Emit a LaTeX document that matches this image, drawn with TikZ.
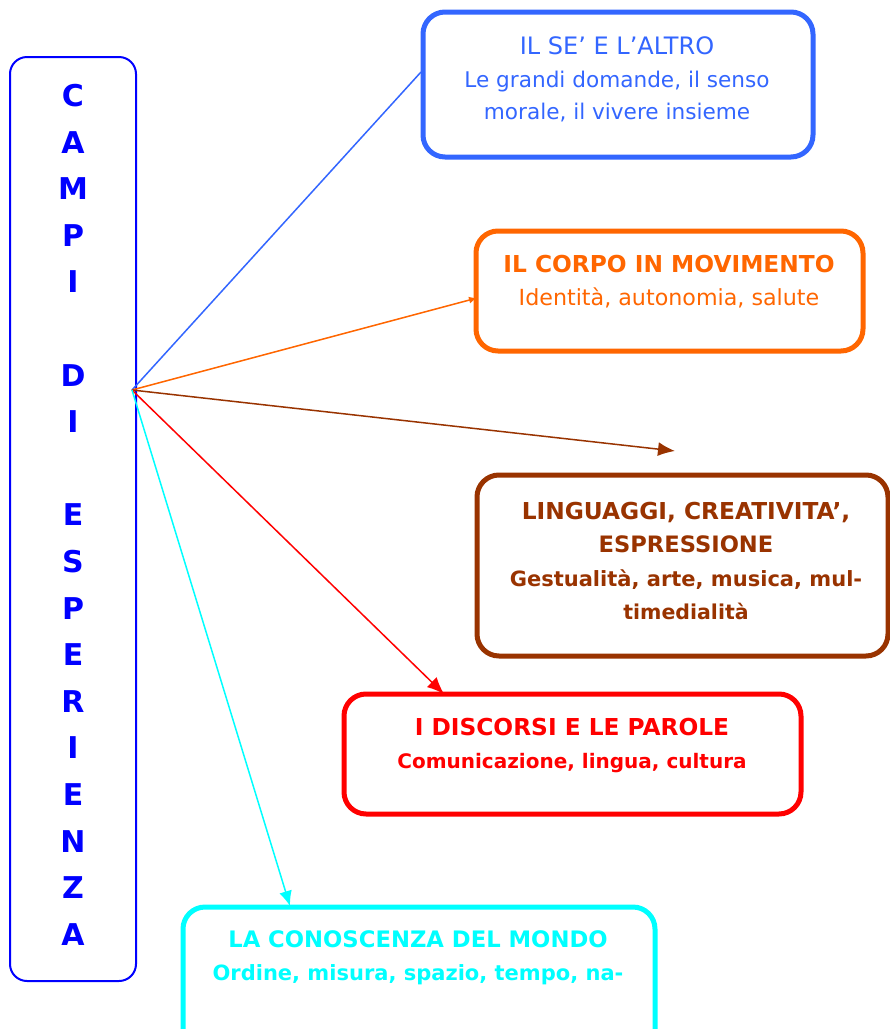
\documentclass[tikz,border=0pt]{standalone}
\usepackage{fontspec}
\setmainfont{DejaVu Sans}
\usetikzlibrary{arrows.meta}
\definecolor{cblue}{HTML}{3366FF}
\definecolor{corange}{HTML}{FF6600}
\definecolor{cbrown}{HTML}{993300}
\definecolor{cred}{HTML}{FF0000}
\definecolor{ccyan}{HTML}{00FFFF}
\definecolor{vblue}{HTML}{0000FF}
\begin{document}
\begin{tikzpicture}[x=1pt,y=-1pt,
  box/.style={draw, line width=5pt, rounded corners=22pt, inner sep=0pt, outer sep=0pt},
  reg/.style={font=\fontsize{21.6}{25}\selectfont, anchor=base, inner sep=0pt},
  regtitle/.style={font=\fontsize{24}{28}\selectfont, anchor=base, inner sep=0pt},
  bld/.style={font=\bfseries\fontsize{20.5}{24}\selectfont, anchor=base, inner sep=0pt},
  bldtitle/.style={font=\bfseries\fontsize{23.3}{28}\selectfont, anchor=base, inner sep=0pt},
  vert/.style={font=\bfseries\fontsize{30}{36}\selectfont, text=vblue, anchor=base, inner sep=0pt},
  conn/.style={line width=1.5pt},
  arr/.style={line width=1.5pt, -{Latex[length=17pt,width=14pt]}}]
\useasboundingbox (0,0) rectangle (890,1029);
\clip (0,0) rectangle (890,1029);
\fill[white] (0,0) rectangle (890,1029);
% left box
\node[draw=vblue, line width=2pt, rounded corners=17pt, minimum width=126pt, minimum height=924pt, inner sep=0pt] (left) at (73,519) {};
\foreach \l [count=\i from 0] in {C,A,M,P,I,{},D,I,{},E,S,P,E,R,I,E,N,Z,A}
  \node[vert] (v\i) at (73,106.5+46.6*\i) {\l};
% boxes
\node[box, draw=cblue, minimum width=390pt, minimum height=145pt] (b1) at (618,84.5) {};
\node[box, draw=corange, minimum width=387pt, minimum height=120pt] (b2) at (669.5,291) {};
\node[box, draw=cbrown, minimum width=411pt, minimum height=181pt] (b3) at (682.5,565.5) {};
\node[box, draw=cred, minimum width=457pt, minimum height=120pt] (b4) at (572.5,754) {};
\node[box, draw=ccyan, minimum width=472pt, minimum height=152pt] (b5) at (419,983) {};
% texts
\node[regtitle, text=cblue] (t1a) at (617,54) {IL SE’ E L’ALTRO};
\node[reg, text=cblue] (t1b) at (617,87) {Le grandi domande, il senso};
\node[reg, text=cblue] (t1c) at (617,119) {morale, il vivere insieme};
\node[bldtitle, text=corange] (t2a) at (669,272) {IL CORPO IN MOVIMENTO};
\node[reg, font=\fontsize{22.2}{26}\selectfont, text=corange] (t2b) at (669,305) {Identità, autonomia, salute};
\node[bldtitle, text=cbrown] (t3a) at (686,519) {LINGUAGGI, CREATIVITA’,};
\node[bldtitle, font=\bfseries\fontsize{22.6}{27}\selectfont, text=cbrown] (t3b) at (686,552) {ESPRESSIONE};
\node[bld, font=\bfseries\fontsize{21}{25}\selectfont, text=cbrown] (t3c) at (686,586) {Gestualità, arte, musica, mul-};
\node[bld, text=cbrown] (t3d) at (686,619) {timedialità};
\node[bldtitle, text=cred] (t4a) at (572,735) {I DISCORSI E LE PAROLE};
\node[bld, font=\bfseries\fontsize{20}{24}\selectfont, text=cred] (t4b) at (572,768) {Comunicazione, lingua, cultura};
\node[bldtitle, font=\bfseries\fontsize{22.7}{27}\selectfont, text=ccyan] (t5a) at (418,947) {LA CONOSCENZA DEL MONDO};
\node[bld, font=\bfseries\fontsize{21}{25}\selectfont, text=ccyan] (t5b) at (418,980) {Ordine, misura, spazio, tempo, na-};
% connectors
\coordinate (hub) at (132,390);
\coordinate (e1) at (421,72);
\coordinate (e2) at (477,298);
\coordinate (e3) at (675,451);
\coordinate (e4) at (444,694);
\coordinate (e5) at (290,906);
\draw[conn, cblue] (hub) -- (e1);
\draw[conn, corange, -{Latex[length=8pt,width=7pt]}] (hub) -- (e2);
\draw[arr, cbrown] (hub) -- (e3);
\draw[arr, cred] (hub) -- (e4);
\draw[arr, ccyan, -{Latex[length=15pt,width=13pt]}] (hub) -- (e5);
\end{tikzpicture}
\end{document}
